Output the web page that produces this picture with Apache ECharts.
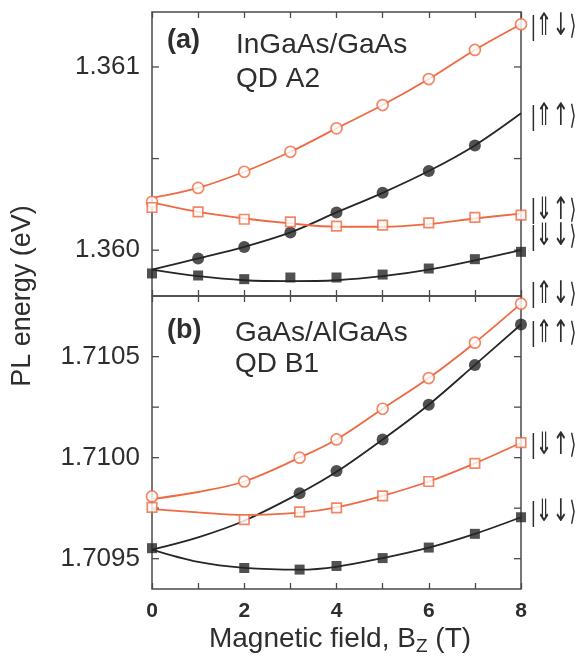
<!DOCTYPE html>
<html>
<head>
<meta charset="utf-8">
<script src="https://cdn.jsdelivr.net/npm/echarts@6/dist/echarts.min.js"></script>
<style>
  html, body { margin: 0; padding: 0; background: #fff; }
  #chart { width: 582px; height: 668px; }
</style>
</head>
<body>
<div id="chart"></div>
<script>
// ---- (a) InGaAs/GaAs QD A2 : measured PL energies (eV) vs B_z (T) ----
const xTop = [0, 1, 2, 3, 4, 5, 6, 7, 8];
const xTopUpUp = [1, 2, 3, 4, 5, 6, 7];
const topUpDown   = [1.360264, 1.360340, 1.360428, 1.360537, 1.360665, 1.360792, 1.360934, 1.361093, 1.361233];
const topUpUp     = [1.359955, 1.360018, 1.360097, 1.360206, 1.360313, 1.360432, 1.360572];
const topDownUp   = [1.360233, 1.360209, 1.360169, 1.360155, 1.360131, 1.360137, 1.360149, 1.360179, 1.360191];
const topDownDown = [1.359873, 1.359862, 1.359842, 1.359851, 1.359851, 1.359867, 1.359900, 1.359951, 1.359991];
// model curves for (a), sampled at xTop
const topFitUpDown   = [1.360285, 1.360340, 1.360428, 1.360537, 1.360665, 1.360792, 1.360934, 1.361093, 1.361233];
const topFitUpUp     = [1.359894, 1.359955, 1.360018, 1.360097, 1.360206, 1.360313, 1.360432, 1.360572, 1.360747];
const topFitDownUp   = [1.360261, 1.360209, 1.360173, 1.360146, 1.360128, 1.360128, 1.360142, 1.360173, 1.360200];
const topFitDownDown = [1.359894, 1.359858, 1.359836, 1.359831, 1.359836, 1.359858, 1.359894, 1.359945, 1.360000];

// ---- (b) GaAs/AlGaAs QD B1 ----
const xBot = [0, 2, 3.2, 4, 5, 6, 7, 8];
const xBotUpUp = [3.2, 4, 5, 6, 7, 8];
const botUpDown   = [1.709808, 1.709882, 1.710000, 1.710090, 1.710242, 1.710394, 1.710569, 1.710762];
const botUpUp     = [1.709824, 1.709934, 1.710090, 1.710262, 1.710459, 1.710659];
const botDownUp   = [1.709754, 1.709693, 1.709732, 1.709751, 1.709811, 1.709882, 1.709972, 1.710074];
const botDownDown = [1.709552, 1.709454, 1.709446, 1.709464, 1.709503, 1.709555, 1.709623, 1.709705];
// model curves for (b)
const xBotFit = [0, 1, 2, 3.2, 4, 5, 6, 7, 8];
const botFitUpDown   = [1.709795, 1.709830, 1.709882, 1.710000, 1.710090, 1.710242, 1.710394, 1.710569, 1.710762];
const botFitUpUp     = [1.709545, 1.709606, 1.709688, 1.709824, 1.709930, 1.710090, 1.710262, 1.710459, 1.710659];
const botFitDownUp   = [1.709745, 1.709729, 1.709716, 1.709728, 1.709754, 1.709811, 1.709882, 1.709972, 1.710074];
const botFitDownDown = [1.709545, 1.709484, 1.709455, 1.709446, 1.709460, 1.709503, 1.709555, 1.709623, 1.709705];

// axis ticks and state names
const topYTicks = [1.3600, 1.3605, 1.3610];
const botYTicks = [1.7095, 1.70975, 1.7100, 1.71025, 1.7105];
const stateArrows = ['\u21D1\u2193', '\u21D1\u2191', '\u21D3\u2191', '\u21D3\u2193'];

// vertical nudges (px) so the state names do not collide at the right edge
const topLabelNudge = [3, 4, -3, -13];
const botLabelNudge = [-9, 9, 3, -4];

const ORANGE = '#ef6a42';
const BLACK = '#262626';
const FRAME = '#4a4a4a';
const TEXT = '#2e2e2e';
const SANS = '"Liberation Sans", Arial, sans-serif';

const pairs = (xs, ys) => xs.map((x, i) => [x, ys[i]]);

function fitLine(xi, yi, xs, ys, color) {
  return {
    type: 'line', xAxisIndex: xi, yAxisIndex: yi,
    data: pairs(xs, ys), smooth: 0.35, symbol: 'none', clip: false,
    lineStyle: { color: color, width: 1.8 }, z: 3
  };
}
function markers(xi, yi, xs, ys, shape, filled, color, size) {
  return {
    type: 'scatter', xAxisIndex: xi, yAxisIndex: yi, clip: false, z: 5,
    data: pairs(xs, ys), symbol: shape, symbolSize: size,
    itemStyle: filled ? { color: color } : { color: '#fff', borderColor: color, borderWidth: 1.7 }
  };
}
function yTickSeries(xi, yi, ticks) {
  return {
    type: 'custom', xAxisIndex: xi, yAxisIndex: yi, z: 2, silent: true,
    data: ticks.map(v => [0, v]),
    renderItem: (params, api) => {
      const v = api.value(1);
      const l = api.coord([0, v]);
      const r = api.coord([8, v]);
      const st = { stroke: FRAME, lineWidth: 1.3 };
      return { type: 'group', children: [
        { type: 'line', shape: { x1: l[0], y1: l[1], x2: l[0] + 7, y2: l[1] }, style: st },
        { type: 'line', shape: { x1: r[0], y1: r[1], x2: r[0] - 7, y2: r[1] }, style: st }
      ] };
    }
  };
}
// spin-state kets placed just right of each curve's end point
function stateLabelSeries(xi, yi, fits, nudge) {
  return {
    type: 'custom', xAxisIndex: xi, yAxisIndex: yi, z: 6, silent: true, clip: false,
    data: fits.map(f => [8, f[f.length - 1]]),
    renderItem: (params, api) => {
      const p = api.coord([api.value(0), api.value(1)]);
      const i = params.dataIndex;
      return {
        type: 'text', x: p[0] + 10, y: p[1] + nudge[i], scaleX: 0.65,
        style: {
          text: '{bar||}{arr|' + stateArrows[i] + '}{ket|\u27E9}',
          verticalAlign: 'middle', align: 'left', fill: TEXT,
          rich: {
            bar: { fontFamily: SANS, fontSize: 28, fill: TEXT },
            arr: { fontFamily: '"DejaVu Sans", sans-serif', fontSize: 31, fill: TEXT },
            ket: { fontFamily: '"DejaVu Sans", sans-serif', fontSize: 27, fill: TEXT }
          }
        }
      };
    }
  };
}

function xAxisDef(grid, pos, showLabels) {
  return {
    type: 'value', gridIndex: grid, position: pos, min: 0, max: 8, interval: 1,
    axisLine: { show: false }, splitLine: { show: false },
    axisTick: { show: true, inside: true, length: 6, lineStyle: { color: FRAME, width: 1.3 } },
    axisLabel: {
      show: showLabels, margin: 12, color: TEXT, fontSize: 21, fontWeight: 'bold', fontFamily: SANS,
      formatter: v => (Math.round(v) % 2 === 0 ? String(Math.round(v)) : '')
    }
  };
}
function yAxisDef(grid, min, max, scale, digits) {
  return {
    type: 'value', gridIndex: grid, min: min, max: max, interval: 0.00005,
    axisLine: { show: false }, splitLine: { show: false }, axisTick: { show: false },
    axisLabel: {
      margin: 12, color: TEXT, fontSize: 26, fontFamily: SANS,
      formatter: v => (Math.abs(v * scale - Math.round(v * scale)) < 1e-4 ? v.toFixed(digits) : '')
    }
  };
}

const topFits = [topFitUpDown, topFitUpUp, topFitDownUp, topFitDownDown];
const botFits = [botFitUpDown, botFitUpUp, botFitDownUp, botFitDownDown];

const chart = echarts.init(document.getElementById('chart'), null, { renderer: 'canvas' });
chart.setOption({
  animation: false,
  backgroundColor: '#fff',
  grid: [
    { left: 152, right: 61, top: 12, height: 284, show: true, borderColor: FRAME, borderWidth: 1.5, backgroundColor: 'transparent' },
    { left: 152, right: 61, top: 296, height: 293, show: true, borderColor: FRAME, borderWidth: 1.5, backgroundColor: 'transparent' }
  ],
  xAxis: [
    xAxisDef(0, 'bottom', false),
    xAxisDef(0, 'top', false),
    xAxisDef(1, 'bottom', true),
    xAxisDef(1, 'top', false)
  ],
  yAxis: [
    yAxisDef(0, 1.35975, 1.3613, 1000, 3),
    yAxisDef(1, 1.70935, 1.7108, 2000, 4)
  ],
  series: [
    yTickSeries(0, 0, topYTicks),
    yTickSeries(2, 1, botYTicks),

    fitLine(0, 0, xTop, topFitUpDown, ORANGE),
    fitLine(0, 0, xTop, topFitUpUp, BLACK),
    fitLine(0, 0, xTop, topFitDownUp, ORANGE),
    fitLine(0, 0, xTop, topFitDownDown, BLACK),
    markers(0, 0, xTop, topUpDown, 'circle', false, ORANGE, 11),
    markers(0, 0, xTopUpUp, topUpUp, 'circle', true, BLACK, 12),
    markers(0, 0, xTop, topDownUp, 'rect', false, ORANGE, 9.5),
    markers(0, 0, xTop, topDownDown, 'rect', true, BLACK, 10),
    stateLabelSeries(0, 0, topFits, topLabelNudge),

    fitLine(2, 1, xBotFit, botFitUpDown, ORANGE),
    fitLine(2, 1, xBotFit, botFitUpUp, BLACK),
    fitLine(2, 1, xBotFit, botFitDownUp, ORANGE),
    fitLine(2, 1, xBotFit, botFitDownDown, BLACK),
    markers(2, 1, xBot, botUpDown, 'circle', false, ORANGE, 11),
    markers(2, 1, xBotUpUp, botUpUp, 'circle', true, BLACK, 12),
    markers(2, 1, xBot, botDownUp, 'rect', false, ORANGE, 9.5),
    markers(2, 1, xBot, botDownDown, 'rect', true, BLACK, 10),
    stateLabelSeries(2, 1, botFits, botLabelNudge)
  ],
  graphic: [
    { type: 'text', left: 167, top: 27, style: { text: '(a)', font: 'bold 27px ' + SANS, fill: TEXT } },
    { type: 'text', left: 236, top: 28, style: { text: 'InGaAs/GaAs\nQD A2', font: '28px ' + SANS, fill: TEXT, lineHeight: 34 } },
    { type: 'text', left: 167, top: 317, style: { text: '(b)', font: 'bold 27px ' + SANS, fill: TEXT } },
    { type: 'text', left: 235, top: 318, style: { text: 'GaAs/AlGaAs\nQD B1', font: '28px ' + SANS, fill: TEXT, lineHeight: 31 } },
    { type: 'text', x: 23, y: 296, rotation: Math.PI / 2,
      style: { text: 'PL energy (eV)', font: '27px ' + SANS, fill: TEXT, align: 'center', verticalAlign: 'middle' } },
    { type: 'text', x: 340, y: 639,
      style: {
        text: 'Magnetic field, B{sub|Z} (T)', font: '28px ' + SANS, fill: TEXT, align: 'center', verticalAlign: 'middle',
        rich: { sub: { fontSize: 19, fontFamily: SANS, fill: TEXT, padding: [15, 0, 0, 0] } }
      } }
  ]
});
</script>
</body>
</html>
